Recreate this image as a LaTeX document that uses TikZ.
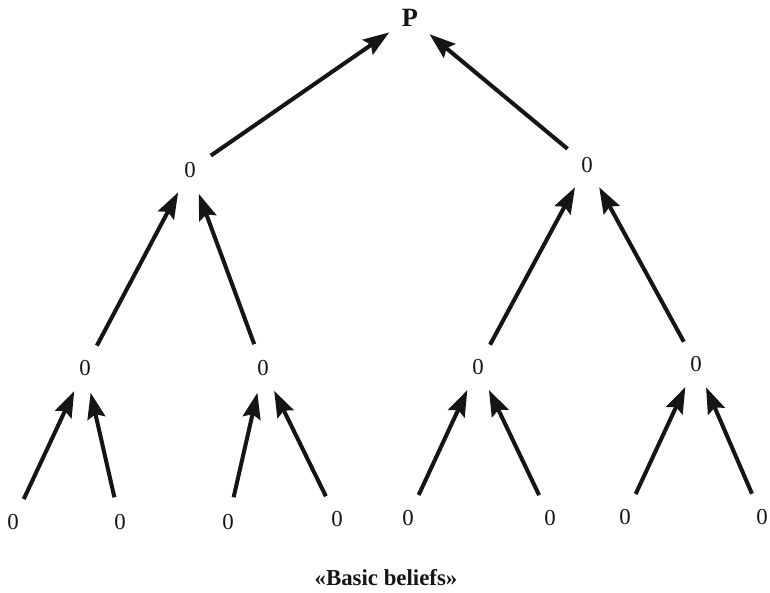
\documentclass[tikz,border=0pt]{standalone}
\usepackage{fontspec}
\setmainfont{Liberation Serif}
\usetikzlibrary{arrows.meta}
\definecolor{TreeInk}{HTML}{151515}

\begin{document}
\begin{tikzpicture}[
        x=0.02cm,y=-0.02cm,
        belief/.style={circle,inner sep=0pt,minimum size=1cm,text=TreeInk,font=\fontsize{13}{15}\selectfont},
        root/.style={belief,font=\fontsize{15}{17}\selectfont\bfseries},
        arr/.style={-{Stealth[length=5.2mm,width=3.6mm,inset=0.8mm]},line width=2.3pt,TreeInk}
      ]
        \useasboundingbox (0,0) rectangle (770,592);
        % top and middle levels
        \node[root] (p) at (410,18) {P};
        \node[belief] (l) at (190,170) {0};
        \node[belief] (r) at (587,165) {0};
        \node[belief] (ll) at (85,368) {0};
        \node[belief] (lr) at (263,368) {0};
        \node[belief] (rl) at (478,367) {0};
        \node[belief] (rr) at (696,364) {0};
        % basic beliefs
        \node[belief] (ll1) at (13,522) {0};
        \node[belief] (ll2) at (120,522) {0};
        \node[belief] (lr1) at (228,522) {0};
        \node[belief] (lr2) at (337,519) {0};
        \node[belief] (rl1) at (408,518) {0};
        \node[belief] (rl2) at (550,518) {0};
        \node[belief] (rr1) at (625,517) {0};
        \node[belief] (rr2) at (762,517) {0};
        \node[font=\fontsize{13}{15}\selectfont\bfseries,text=TreeInk] (cap) at (386,578) {«Basic beliefs»};
        \draw[arr] (l)--(p); \draw[arr] (r)--(p);
        \draw[arr] (ll)--(l); \draw[arr] (lr)--(l);
        \draw[arr] (rl)--(r); \draw[arr] (rr)--(r);
        \draw[arr] (ll1)--(ll); \draw[arr] (ll2)--(ll);
        \draw[arr] (lr1)--(lr); \draw[arr] (lr2)--(lr);
        \draw[arr] (rl1)--(rl); \draw[arr] (rl2)--(rl);
        \draw[arr] (rr1)--(rr); \draw[arr] (rr2)--(rr);
      \end{tikzpicture}
\end{document}
